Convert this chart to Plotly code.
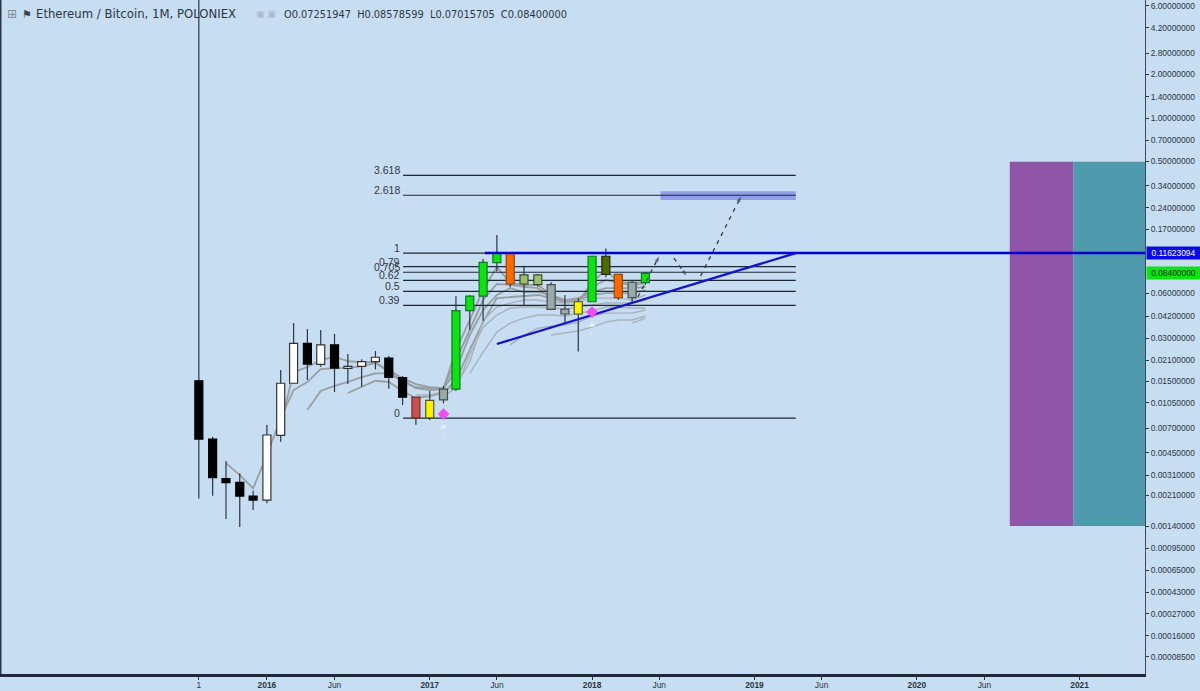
import math

import pandas as pd
import plotly.graph_objects as go

BG = "#c7ddf2"
INK = "#2a3642"
FONT = "Liberation Sans"

months = pd.date_range("2015-08-01", periods=34, freq="MS")

opens = [0.0152, 0.0060, 0.00320, 0.00301, 0.00242, 0.00227, 0.00637, 0.0146, 0.0276, 0.0197, 0.0269, 0.0185,
         0.0191, 0.0206, 0.0218, 0.0160, 0.0117, 0.0111, 0.0112, 0.0133, 0.0464, 0.0586, 0.0998, 0.116,
         0.0710, 0.0702, 0.0702, 0.0476, 0.0440, 0.0535, 0.1105, 0.0828, 0.0572, 0.07251947]
closes = [0.0060, 0.00324, 0.00300, 0.00242, 0.00227, 0.00640, 0.0146, 0.0276, 0.0198, 0.0269, 0.0186, 0.0191,
          0.0206, 0.0221, 0.0160, 0.0117, 0.0084, 0.0084, 0.0133, 0.0464, 0.0586, 0.1003, 0.116, 0.0710,
          0.0820, 0.0820, 0.0474, 0.0440, 0.0535, 0.1105, 0.0828, 0.0572, 0.0730, 0.08400000]
highs = [8.0, 0.00623, 0.00423, 0.00348, 0.00263, 0.00750, 0.0180, 0.0381, 0.0346, 0.0341, 0.0320, 0.0233,
         0.0214, 0.0244, 0.0225, 0.0164, 0.0117, 0.0129, 0.0140, 0.0585, 0.0596, 0.1058, 0.155, 0.116,
         0.0950, 0.0833, 0.0730, 0.0596, 0.0565, 0.1105, 0.1248, 0.0828, 0.0757, 0.08578599]
lows = [0.00233, 0.00243, 0.00168, 0.00148, 0.00194, 0.00216, 0.00575, 0.0146, 0.0154, 0.0190, 0.0127, 0.0144,
        0.0138, 0.0182, 0.0134, 0.0103, 0.00755, 0.00813, 0.0106, 0.0129, 0.0341, 0.0396, 0.0865, 0.0675,
        0.0508, 0.0680, 0.0474, 0.0380, 0.0242, 0.0535, 0.0790, 0.0550, 0.0520, 0.07015705]

K, W, G, O, Y, R, S, L, D = "#000000", "#ffffff", "#0be40f", "#ff6a00", "#fff200", "#c9504f", "#9aaaa8", "#9dbf6a", "#4f6a00"
candle_fill = [K, K, K, K, K, W, W, W, K, W, K, W, W, W, K, K, R, Y, S, G, G, G, G, O, L, L, S, S, Y, G, D, O, S, G]
candle_edge = {K: "#000000", W: "#333333", G: "#10752a", O: "#8a4a10", Y: "#555522", R: "#7a2a2a",
               S: "#444c50", L: "#3c4a30", D: "#222a10"}

# ribbon of moving averages, padded up to the month each one starts in
ma_1 = [None] * 2 + [0.00409, 0.00338, 0.00274, 0.00465, 0.00838, 0.0131, 0.0149, 0.0183, 0.0186, 0.0186, 0.0192, 0.0201,
                     0.0180, 0.0158, 0.0144, 0.0137, 0.0135, 0.0248, 0.0400, 0.0645, 0.0930, 0.0721, 0.0699, 0.0699,
                     0.0596, 0.0532, 0.0532, 0.0733, 0.0888, 0.0733, 0.0721, 0.0733]
ma_2 = [None] * 6 + [0.0075, 0.0174, 0.0189, 0.0211, 0.0222, 0.0208, 0.0204, 0.0204, 0.0174, 0.0149, 0.0137, 0.0135,
                     0.0135, 0.0211, 0.0341, 0.0550, 0.0710, 0.0699, 0.0677, 0.0665, 0.0567, 0.0532, 0.0550, 0.0677,
                     0.0757, 0.0721, 0.0699, 0.0721]
ma_3 = [None] * 8 + [0.00953, 0.0129, 0.0140, 0.0149, 0.0161, 0.0171, 0.0171, 0.0154, 0.0135, 0.0131, 0.0133, 0.0180,
                     0.0315, 0.0469, 0.0596, 0.0665, 0.0624, 0.0624, 0.0596, 0.0550, 0.0567, 0.0624, 0.0665, 0.0665,
                     0.0665, 0.0677]
ma_4 = [None] * 11 + [0.0125, 0.0137, 0.0152, 0.0149, 0.0129, 0.0115, 0.0119, 0.0125, 0.0154, 0.0248, 0.0387, 0.0567,
                      0.0577, 0.0586, 0.0596, 0.0567, 0.0532, 0.0550, 0.0596, 0.0614, 0.0614, 0.0614, 0.0645]
ma_5 = [None] * 16 + [0.0121, 0.0121, 0.0127, 0.0142, 0.0204, 0.0400, 0.0492, 0.0524, 0.0550, 0.0550, 0.0532, 0.0524,
                      0.0532, 0.0567, 0.0567, 0.0567, 0.0550, 0.0596]
ma_6 = [None] * 18 + [0.0119, 0.0135, 0.0229, 0.0357, 0.0433, 0.0484, 0.0492, 0.0492, 0.0484, 0.0476, 0.0492, 0.0508,
                      0.0524, 0.0524, 0.0524, 0.0550]
ma_7 = [None] * 20 + [0.0171, 0.0240, 0.0330, 0.0381, 0.0412, 0.0433, 0.0433, 0.0426, 0.0446, 0.0461, 0.0492, 0.0492,
                      0.0484, 0.0484]
ma_8 = [None] * 23 + [0.0269, 0.0315, 0.0351, 0.0363, 0.0369, 0.0387, 0.0426, 0.0446, 0.0446, 0.0446, 0.0469]
ma_9 = [None] * 26 + [0.0315, 0.0325, 0.0336, 0.0357, 0.0387, 0.0400, 0.0400, 0.0426]
ma_10 = [None] * 32 + [0.0381, 0.0412]
dark_ribbon = [ma_1, ma_2, ma_3, ma_4]
light_ribbon = [ma_5, ma_6, ma_7, ma_8, ma_9, ma_10]

fib_labels = ["3.618", "2.618", "1", "0.79", "0.705", "0.62", "0.5", "0.39", "0"]
fib_prices = [0.4012, 0.2920, 0.1162, 0.0935, 0.0856, 0.0753, 0.0631, 0.0505, 0.00838]
fib_start, fib_end = "2016-11-02", "2019-04-04"

trend_x = ["2017-06-01", "2019-04-04"]
trend_y = [0.0273, 0.1162]
resistance_x = ["2017-05-05", "2021-06-30"]
resistance_y = [0.11623094, 0.11623094]

zone_x = ["2018-06-04", "2018-06-04", "2019-04-04", "2019-04-04"]
zone_y = [0.2708, 0.3110, 0.3110, 0.2708]
purple_x = ["2020-07-28", "2020-07-28", "2020-12-18", "2020-12-18"]
teal_x = ["2020-12-18", "2020-12-18", "2021-06-30", "2021-06-30"]
block_y = [0.00150, 0.498, 0.498, 0.00150]

arrow_paths = [
    (["2018-04-14", "2018-05-31"], [0.0577, 0.1092]),
    (["2018-07-04", "2018-07-31"], [0.1074, 0.0820]),
    (["2018-09-02", "2018-12-01"], [0.0807, 0.2836]),
]
signal_x = ["2017-02-01", "2018-01-01"]
diamond_y = [0.00893, 0.0454]
triangle_y = [0.00727, 0.0369]
letter_y = [0.00620, 0.0312]

# labels are what the screenshot prints, values are where those labels actually sit on its scale
price_labels = ["6.00000000", "4.20000000", "2.80000000", "2.00000000", "1.40000000", "1.00000000", "0.70000000",
                "0.50000000", "0.34000000", "0.24000000", "0.17000000", "0.06000000", "0.04200000", "0.03000000",
                "0.02100000", "0.01500000", "0.01050000", "0.00700000", "0.00450000", "0.00310000", "0.00210000",
                "0.00140000", "0.00095000", "0.00065000", "0.00043000", "0.00027000", "0.00016000", "0.00008500"]
price_ticks = [6.0, 4.2, 2.8, 2.0, 1.4, 1.0, 0.7, 0.5, 0.34, 0.24, 0.17, 0.061, 0.0425, 0.030, 0.0211, 0.0151, 0.01068,
               0.00715, 0.00481, 0.00338, 0.00244, 0.00150, 0.00105, 0.000743, 0.000524, 0.000370, 0.000261, 0.000187]
date_ticks = ["2015-08-01", "2016-01-01", "2016-06-01", "2017-01-01", "2017-06-01", "2018-01-01", "2018-06-01",
              "2019-01-01", "2019-06-01", "2020-01-01", "2020-06-01", "2021-01-01"]
date_labels = ["1", "<b>2016</b>", "Jun", "<b>2017</b>", "Jun", "<b>2018</b>", "Jun", "<b>2019</b>", "Jun",
               "<b>2020</b>", "Jun", "<b>2021</b>"]

x_range = ["2014-05-11", "2021-05-28"]
y_range = [-3.8477, 0.8166]


def block(x, y, color):
    return go.Scatter(x=x, y=y, mode="lines", fill="toself", fillcolor=color, line=dict(width=0), hoverinfo="skip")


def header_text(left, text, size, color):
    return dict(x=left / 1145, y=1 - 14 / 674, xref="paper", yref="paper", text=text, showarrow=False,
                xanchor="left", yanchor="middle", font=dict(family="DejaVu Sans", size=size, color=color))


def price_box(price, text, bg, color):
    return dict(x=1146 / 1145, y=math.log10(price), xref="paper", yref="y", text=text, showarrow=False, xanchor="left",
                width=53, height=12, align="center", bgcolor=bg, borderpad=0,
                font=dict(family=FONT, size=8.4, color=color))


fig = go.Figure()

fig.add_trace(block(purple_x, block_y, "#8f55a8"))
fig.add_trace(block(teal_x, block_y, "#4f9aac"))
fig.add_trace(block(zone_x, zone_y, "#8f9fe8"))

for ma in dark_ribbon:
    fig.add_trace(go.Scatter(x=months, y=ma, mode="lines", line=dict(color="#989ea2", width=1.8)))
for ma in light_ribbon:
    fig.add_trace(go.Scatter(x=months, y=ma, mode="lines", line=dict(color="#a8b2ba", width=1.4)))

for price in fib_prices:
    fig.add_trace(go.Scatter(x=[fib_start, fib_end], y=[price, price], mode="lines",
                             line=dict(color="#1e2832", width=1.2)))

# wicks stay on the lower axes so the bodies cover them
wick_x, wick_y = [], []
for month, high, low in zip(months, highs, lows):
    wick_x += [month, month, None]
    wick_y += [low, high, None]
fig.add_trace(go.Scatter(x=wick_x, y=wick_y, mode="lines", line=dict(color=INK, width=1.2)))

# bars are always drawn under scatters of the same axes, so bodies get their own overlay axes
body_base = [min(o, c) for o, c in zip(opens, closes)]
body_size = [abs(o - c) for o, c in zip(opens, closes)]
fig.add_trace(go.Bar(x=months, y=body_size, base=body_base, width=18 * 86400000,
                     marker=dict(color=candle_fill, line=dict(color=[candle_edge[c] for c in candle_fill], width=1.2)),
                     xaxis="x2", yaxis="y2"))

fig.add_trace(go.Scatter(x=resistance_x, y=resistance_y, mode="lines", line=dict(color="#0000d2", width=2.4),
                         xaxis="x2", yaxis="y2"))
fig.add_trace(go.Scatter(x=trend_x, y=trend_y, mode="lines", line=dict(color="#1414d0", width=2.2),
                         xaxis="x2", yaxis="y2"))

for x, y in arrow_paths:
    fig.add_trace(go.Scatter(x=x, y=y, mode="lines+markers", line=dict(color="#2f3a44", width=1.3, dash="4px,5px"),
                             marker=dict(symbol="arrow", angleref="previous", size=[0, 5], color="#2f3a44",
                                         line=dict(color="#2f3a44", width=0.5)),
                             xaxis="x2", yaxis="y2"))

fig.add_trace(go.Scatter(x=signal_x, y=diamond_y, mode="markers", marker=dict(symbol="diamond", size=9, color="#f04cf0"),
                         xaxis="x2", yaxis="y2"))
fig.add_trace(go.Scatter(x=signal_x, y=triangle_y, mode="markers",
                         marker=dict(symbol="triangle-up", size=6, color="#e6f1f8"), xaxis="x2", yaxis="y2"))
fig.add_trace(go.Scatter(x=signal_x, y=letter_y, mode="text", text=["C", "C"],
                         textfont=dict(family=FONT, size=7, color="#dcebf7"), xaxis="x2", yaxis="y2"))

annotations = []
for label, price in zip(fib_labels, fib_prices):
    annotations.append(dict(x=fib_start, y=math.log10(price), xref="x", yref="y", text=label, showarrow=False,
                            xanchor="right", xshift=-1, yshift=5, font=dict(family=FONT, size=10.5, color="#333a42")))

annotations.append(price_box(0.11623094, "0.11623094", "#0a0ae6", "#ffffff"))
annotations.append(price_box(0.08400000, "0.08400000", "#0be40f", "#10301a"))

annotations.append(header_text(5, "⊞", 12, "#7d8a97"))
annotations.append(header_text(20, "⚑", 11, "#3a4550"))
annotations.append(header_text(34, "Ethereum / Bitcoin, 1M, POLONIEX", 11.7, INK))
annotations.append(header_text(254, "▣ ▣", 9, "#a8bacb"))
annotations.append(header_text(282, "O0.07251947  H0.08578599  L0.07015705  C0.08400000", 9.8, INK))

fig.update_layout(
    width=1200,
    height=691,
    margin=dict(l=0, r=55, t=0, b=17, pad=0),
    paper_bgcolor=BG,
    plot_bgcolor=BG,
    showlegend=False,
    barmode="overlay",
    annotations=annotations,
    shapes=[dict(type="line", xref="paper", yref="paper", x0=0, x1=0, y0=0, y1=1, line=dict(color=INK, width=3))],
    xaxis=dict(type="date", range=x_range, showgrid=False, zeroline=False, tickmode="array", tickvals=date_ticks,
               ticktext=date_labels, ticks="outside", ticklen=3, tickcolor=INK, showline=True, linecolor="#1f2a36",
               linewidth=3, ticklabelstandoff=-2, tickfont=dict(family=FONT, size=8.4, color=INK)),
    yaxis=dict(type="log", range=y_range, side="right", showgrid=False, zeroline=False, tickmode="array",
               tickvals=price_ticks, ticktext=price_labels, ticks="outside", ticklen=3, tickcolor=INK, showline=True,
               linecolor="#3a4a5a", linewidth=1, tickfont=dict(family=FONT, size=8.4, color=INK)),
    xaxis2=dict(type="date", range=x_range, overlaying="x", visible=False),
    yaxis2=dict(type="log", range=y_range, overlaying="y", visible=False),
)

fig.write_html("out.html", config=dict(displayModeBar=False),
               post_script="document.body.style.margin='0';document.body.style.overflow='hidden';")
